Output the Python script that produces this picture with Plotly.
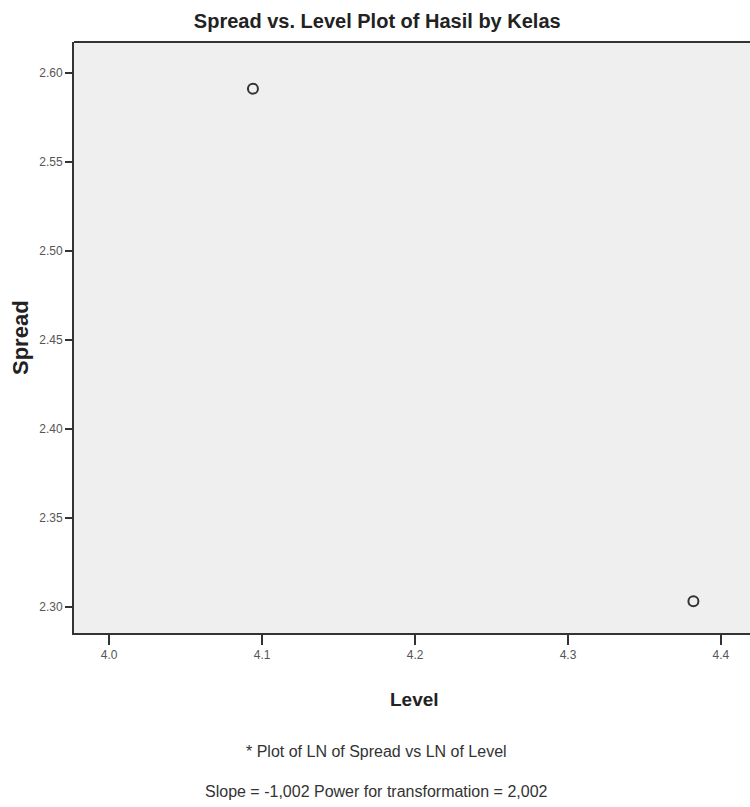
import plotly.graph_objects as go

level = [4.094, 4.382]
spread = [2.591, 2.303]
x_ticks = [4.0, 4.1, 4.2, 4.3, 4.4]
x_tick_labels = ["4.0", "4.1", "4.2", "4.3", "4.4"]
y_ticks = [2.30, 2.35, 2.40, 2.45, 2.50, 2.55, 2.60]
y_tick_labels = ["2.30", "2.35", "2.40", "2.45", "2.50", "2.55", "2.60"]
title = "Spread vs. Level Plot of Hasil by Kelas"
x_title = "Level"
y_title = "Spread"
note1 = "* Plot of LN of Spread vs LN of Level"
note2 = "Slope = -1,002 Power for transformation = 2,002"

FONT = "Liberation Sans Narrow, Arial Narrow, Liberation Sans, Arial, sans-serif"

# plot-area geometry (pixels) used to place text as paper fractions
L, T, B, W, H = 74, 42, 633, 676, 591

def px_x(x):
    return (x - L) / W

def px_y(y):
    return (B - y) / H

fig = go.Figure()
fig.add_trace(go.Scatter(
    x=level, y=spread, mode="markers",
    marker=dict(symbol="circle-open", size=10, color="#333333",
                line=dict(width=2, color="#333333")),
    showlegend=False, hoverinfo="x+y",
))

fig.update_layout(
    width=750, height=807,
    margin=dict(l=L, r=750 - L - W, t=T, b=807 - B),
    paper_bgcolor="white",
    plot_bgcolor="#efefef",
    font=dict(family=FONT, color="#222222"),
    title=dict(text="<b>" + title + "</b>", x=0.503, xanchor="center",
               y=1 - 21 / 807, yanchor="middle",
               font=dict(size=20, family=FONT, color="#222222")),
    xaxis=dict(
        range=[3.977, 4.419],
        tickvals=x_ticks, ticktext=x_tick_labels,
        ticks="outside", ticklen=10, tickwidth=1.5, tickcolor="#333333",
        tickfont=dict(size=12, color="#555555", family=FONT),
        showgrid=False, zeroline=False,
        showline=True, linecolor="#333333", linewidth=2,
    ),
    yaxis=dict(
        range=[2.2852, 2.6172],
        tickvals=y_ticks, ticktext=y_tick_labels,
        ticks="outside", ticklen=7, tickwidth=1.5, tickcolor="#333333",
        tickfont=dict(size=12, color="#555555", family=FONT),
        showgrid=False, zeroline=False,
        showline=True, linecolor="#333333", linewidth=2,
    ),
    shapes=[dict(type="line", xref="paper", yref="paper", x0=0, x1=1, y0=1, y1=1,
                 line=dict(color="#333333", width=2))],
    annotations=[
        dict(text="<b>" + x_title + "</b>", xref="paper", yref="paper",
             x=px_x(414), y=px_y(699), xanchor="center", yanchor="middle",
             showarrow=False, font=dict(size=19, color="#222222", family=FONT)),
        dict(text="<b>" + y_title + "</b>", xref="paper", yref="paper",
             x=px_x(20), y=px_y(337), xanchor="center", yanchor="middle",
             textangle=-90, showarrow=False,
             font=dict(size=22, color="#222222", family=FONT)),
        dict(text=note1, xref="paper", yref="paper", x=px_x(376), y=px_y(751),
             xanchor="center", yanchor="middle", showarrow=False,
             font=dict(size=16, color="#333333", family=FONT)),
        dict(text=note2, xref="paper", yref="paper", x=px_x(376), y=px_y(791),
             xanchor="center", yanchor="middle", showarrow=False,
             font=dict(size=16, color="#333333", family=FONT)),
    ],
)

fig.write_html("out.html", config={"displayModeBar": False},
               post_script="document.body.style.margin='0';")
